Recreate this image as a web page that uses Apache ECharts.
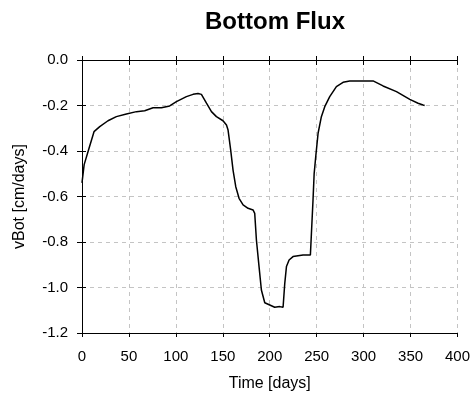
<!DOCTYPE html>
<html>
<head>
<meta charset="utf-8">
<script src="https://cdn.jsdelivr.net/npm/echarts@6/dist/echarts.min.js"></script>
<style>
  html, body { margin: 0; padding: 0; background: #fff; }
  #chart { width: 473px; height: 398px; }
</style>
</head>
<body>
<div id="chart"></div>
<script>
// Bottom flux time series (vBot in cm/days against time in days)
const timeDays = [0, 2.3, 7.5, 12.8, 18.9, 27.7, 36.6, 47.3, 58, 66.8, 75.7, 84.6, 93.4, 100.6,
  111.2, 118.3, 123.6, 127.2, 132.6, 137.9, 143.2, 150.2, 153.9, 155.6, 158.4, 160.9, 163.8,
  167.3, 171.6, 176.9, 182.2, 184, 185.8, 188.6, 191.1, 194.7, 200, 205.3, 210.7, 214.2, 216,
  217.8, 220.6, 224.8, 235.5, 243.3, 244.4, 246.1, 247.3, 249, 251.5, 255, 258.6, 263.9, 271,
  278.1, 285.2, 310.1, 320.7, 335, 349.2, 358, 363.3, 365];
const vBot = [-0.54, -0.46, -0.388, -0.315, -0.293, -0.267, -0.249, -0.237, -0.227, -0.223,
  -0.21, -0.21, -0.202, -0.183, -0.161, -0.151, -0.147, -0.151, -0.19, -0.227, -0.249, -0.267,
  -0.286, -0.308, -0.396, -0.484, -0.557, -0.608, -0.637, -0.652, -0.659, -0.674, -0.791,
  -0.908, -1.011, -1.067, -1.077, -1.087, -1.084, -1.087, -0.982, -0.908, -0.879, -0.864,
  -0.857, -0.857, -0.762, -0.615, -0.5, -0.425, -0.322, -0.249, -0.205, -0.161, -0.117,
  -0.098, -0.092, -0.092, -0.114, -0.139, -0.173, -0.19, -0.198, -0.2];

const xTicks = { min: 0, max: 400, interval: 50 };
const yTicks = { min: -1.2, max: 0, interval: 0.2 };

const FONT = '"Liberation Sans", Arial, sans-serif';
const gridDash = { color: '#c4c4c4', width: 1, type: [4, 4] };
const black = { color: '#000', width: 1 };

function xAxisPart(extra) {
  return Object.assign({
    type: 'value', min: xTicks.min, max: xTicks.max, interval: xTicks.interval,
    axisLine: { show: false }, axisLabel: { show: false }, splitLine: { show: false },
    axisTick: { show: true, lineStyle: black, length: 4 }
  }, extra);
}
function yAxisPart(extra) {
  return Object.assign({
    type: 'value', min: yTicks.min, max: yTicks.max, interval: yTicks.interval,
    axisLine: { show: false }, axisLabel: { show: false }, splitLine: { show: false },
    axisTick: { show: true, lineStyle: black, length: 4 }
  }, extra);
}

const chart = echarts.init(document.getElementById('chart'), null, { renderer: 'canvas' });
chart.setOption({
  animation: false,
  backgroundColor: '#fff',
  title: {
    text: 'Bottom Flux',
    left: 270, top: 5, textAlign: 'center',
    textStyle: { fontFamily: FONT, fontWeight: 'bold', fontSize: 24, color: '#000' }
  },
  grid: { left: 82, top: 60, right: 15, bottom: 65, containLabel: false },
  xAxis: [
    xAxisPart({
      position: 'bottom',
      axisLine: { show: true, onZero: false, lineStyle: black },
      axisLabel: { show: true, margin: 16, color: '#000', fontFamily: FONT, fontSize: 15 },
      splitLine: { show: true, lineStyle: gridDash },
      name: 'Time [days]', nameLocation: 'middle', nameGap: 43,
      nameTextStyle: { fontFamily: FONT, fontSize: 16, color: '#000' }
    }),
    xAxisPart({ position: 'bottom', axisTick: { show: true, inside: true, length: 4, lineStyle: black } }),
    xAxisPart({ position: 'top', axisLine: { show: true, onZero: false, lineStyle: black } }),
    xAxisPart({ position: 'top', axisTick: { show: true, inside: true, length: 5, lineStyle: black } })
  ],
  yAxis: [
    yAxisPart({
      position: 'left',
      axisLine: { show: true, onZero: false, lineStyle: black },
      axisTick: { show: true, length: 5, lineStyle: black },
      axisLabel: { show: true, margin: 14, color: '#000', fontFamily: FONT, fontSize: 15,
        formatter: v => v.toFixed(1) },
      splitLine: { show: true, lineStyle: gridDash },
      name: 'vBot [cm/days]', nameLocation: 'middle', nameGap: 54,
      nameTextStyle: { fontFamily: FONT, fontSize: 16, color: '#000' }
    }),
    yAxisPart({ position: 'left', axisTick: { show: true, inside: true, length: 4, lineStyle: black } })
  ],
  series: [{
    type: 'line',
    xAxisIndex: 0, yAxisIndex: 0,
    data: timeDays.map((t, i) => [t, vBot[i]]),
    showSymbol: false,
    smooth: false,
    lineStyle: { color: '#000', width: 1.5 }
  }]
});
</script>
</body>
</html>
